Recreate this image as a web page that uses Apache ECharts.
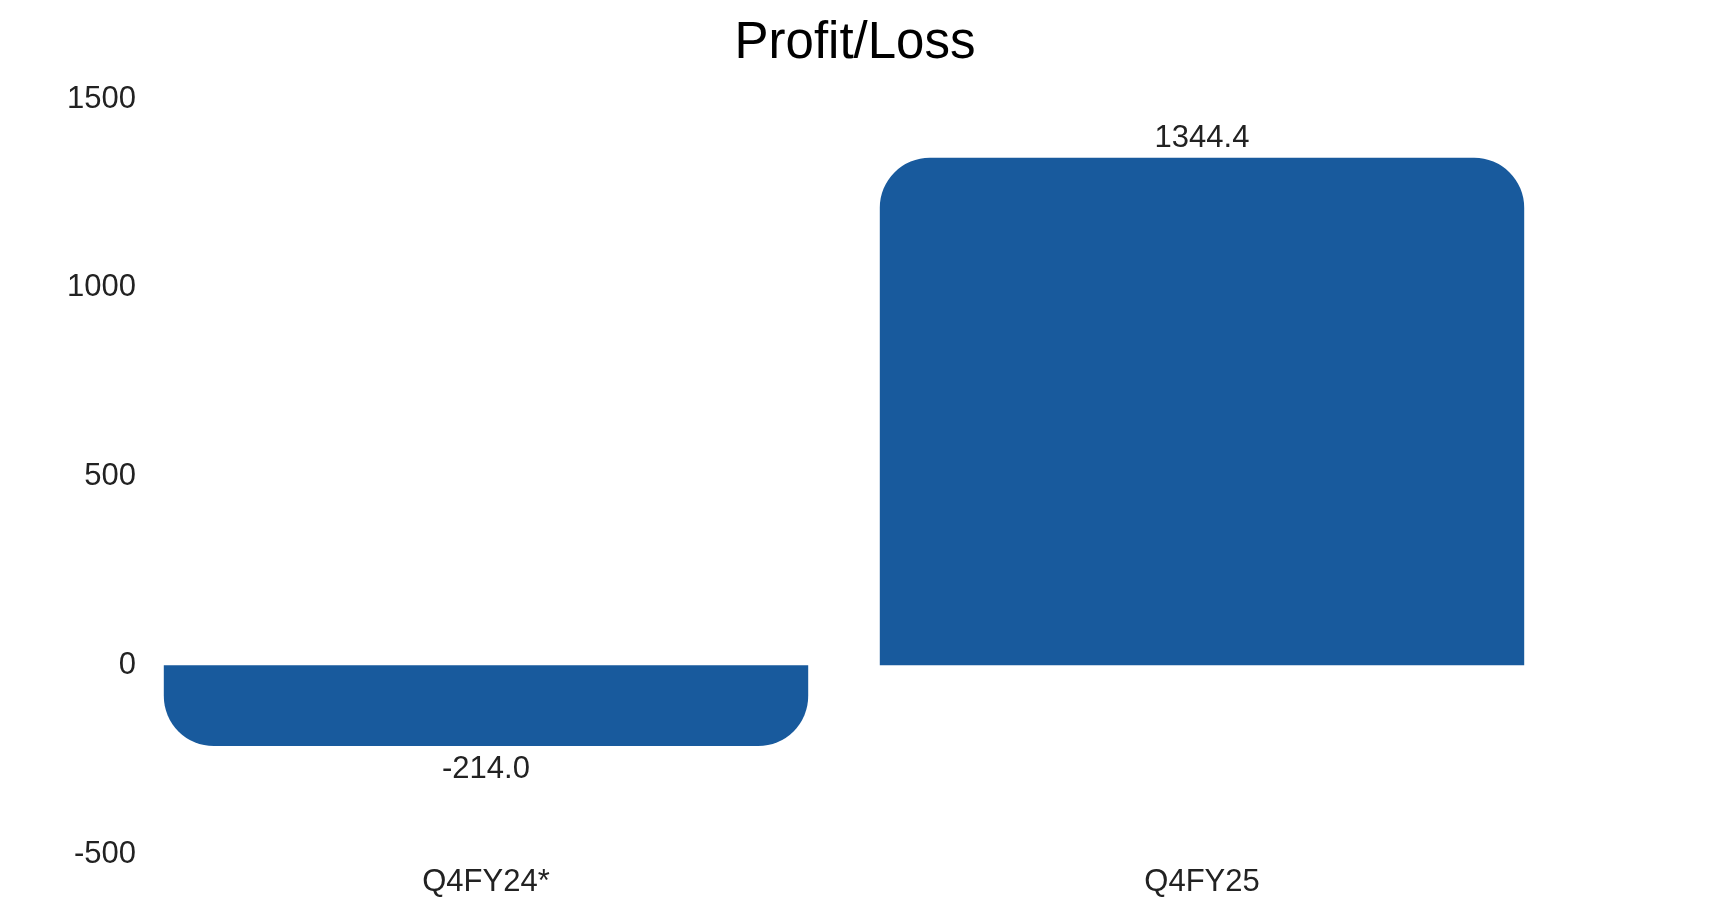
<!DOCTYPE html>
<html>
<head>
<meta charset="utf-8">
<script src="https://cdn.jsdelivr.net/npm/echarts@6/dist/echarts.min.js"></script>
<style>
html,body{margin:0;padding:0;background:#fff;}
#chart{width:1710px;height:905px;}
</style>
</head>
<body>
<div id="chart"></div>
<script>
var categories = ['Q4FY24*', 'Q4FY25'];
var values = [-214.0, 1344.4];
var titleText = 'Profit/Loss';

var R = 50;
var seriesData = values.map(function (v) {
  return {
    value: v,
    itemStyle: { borderRadius: v >= 0 ? [R, R, 0, 0] : [0, 0, R, R] },
    label: { position: v >= 0 ? 'top' : 'bottom', distance: v >= 0 ? 4 : 8 }
  };
});

var chart = echarts.init(document.getElementById('chart'));
chart.setOption({
  backgroundColor: '#ffffff',
  animation: false,
  textStyle: { fontFamily: 'Liberation Sans, Arial, sans-serif' },
  title: {
    text: titleText,
    left: 'center',
    top: 13,
    textStyle: { fontSize: 51, fontWeight: 'normal', color: '#000', fontFamily: 'Liberation Sans, Arial, sans-serif' }
  },
  grid: { left: 128, right: 150, top: 99, bottom: 51, containLabel: false },
  xAxis: {
    type: 'category',
    data: categories,
    position: 'bottom',
    axisLine: { show: false },
    axisTick: { show: false },
    axisLabel: { fontSize: 31, color: '#222', margin: 13 },
    splitLine: { show: false }
  },
  yAxis: {
    type: 'value',
    min: -500,
    max: 1500,
    interval: 500,
    axisLine: { show: false },
    axisTick: { show: false },
    splitLine: { show: false },
    axisLabel: { fontSize: 31, color: '#222', margin: -8, padding: [4, 0, 0, 0], formatter: function (v) { return String(v); } }
  },
  series: [{
    type: 'bar',
    data: seriesData,
    barCategoryGap: '10%',
    itemStyle: { color: '#185a9d' },
    label: {
      show: true,
      fontSize: 31,
      color: '#222',
      formatter: function (p) { return p.value.toFixed(1); }
    }
  }]
});
</script>
</body>
</html>
